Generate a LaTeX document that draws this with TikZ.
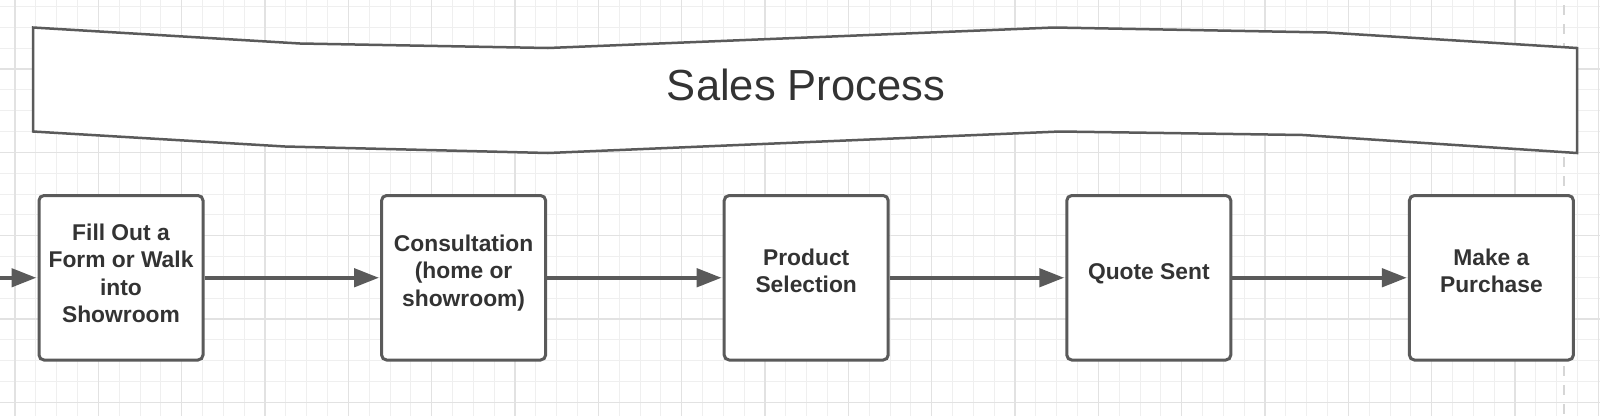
\documentclass[tikz,border=0pt]{standalone}
\usepackage{fontspec}
\setmainfont{Liberation Sans}
\usetikzlibrary{arrows.meta,calc}
\definecolor{minorgrid}{HTML}{EFEFEF}
\definecolor{majorgrid}{HTML}{E2E2E2}
\definecolor{strokegray}{HTML}{5A5A5A}
\definecolor{textgray}{HTML}{333333}
\definecolor{dashgray}{HTML}{D6D6D6}
\tikzset{
  minorline/.style={draw=minorgrid,line width=1pt},
  majorline/.style={draw=majorgrid,line width=1.2pt},
  stepbox/.style={draw=strokegray,line width=3pt,fill=white,rounded corners=5pt,
    minimum width=164pt,minimum height=164.5pt,inner sep=0pt},
  steptext/.style={text=textgray,align=center,font=\fontsize{22.8}{27.3}\selectfont\bfseries,inner sep=0pt},
  flow/.style={draw=strokegray,line width=4.5pt,-{Triangle[length=25pt,width=18pt]},shorten >=1pt},
  bannerline/.style={draw=strokegray,line width=2.5pt,fill=white,line join=miter},
}
\begin{document}
\begin{tikzpicture}[x=1pt,y=-1pt]
\useasboundingbox (0,0) rectangle (1600,416);
\fill[white] (0,0) rectangle (1600,416);
% grid
\foreach \k in {0,...,76} \draw[minorline] (15+\k*20.8333,0) -- (15+\k*20.8333,416);
\foreach \k in {0,...,19} \draw[minorline] (0,6.5+\k*20.8333) -- (1600,6.5+\k*20.8333);
\foreach \k in {0,...,19} \draw[majorline] (15+\k*83.3333,0) -- (15+\k*83.3333,416);
\foreach \k in {0,...,4} \draw[majorline] (0,69+\k*83.3333) -- (1600,69+\k*83.3333);
% dashed page line
\draw[draw=dashgray,line width=2pt,dash pattern=on 10pt off 9pt] (1564,5) -- (1564,416);
% banner
\draw[bannerline] (33,27.5) -- (300,43.5) -- (548,48) -- (1054,27.5) -- (1327,32.5) -- (1577,48)
  -- (1577,153) -- (1303,135) -- (1060,131.5) -- (548,153) -- (285,146.5) -- (33,131.5) -- cycle;
\node[text=textgray,font=\fontsize{43.5}{50}\selectfont,inner sep=0pt,anchor=base] (title) at (806,100.7) {Sales Process};
% boxes
\node[stepbox] (b1) at (121,277.75) {};
\node[stepbox] (b2) at (463.6,277.75) {};
\node[stepbox] (b3) at (806.2,277.75) {};
\node[stepbox] (b4) at (1148.8,277.75) {};
\node[stepbox] (b5) at (1491.4,277.75) {};
\node[steptext] (t1) at ([yshift=1.75pt]b1.center) {\strut Fill Out a\\\strut Form or Walk\\\strut into\\\strut Showroom};
\node[steptext] (t2) at ([yshift=4.5pt]b2.center) {\strut Consultation\\\strut (home or\\\strut showroom)};
\node[steptext] (t3) at ([yshift=4.5pt]b3.center) {\strut Product\\\strut Selection};
\node[steptext] (t4) at ([yshift=3.5pt]b4.center) {\strut Quote Sent};
\node[steptext] (t5) at ([yshift=4pt]b5.center) {\strut Make a\\\strut Purchase};
% connectors
\coordinate (start) at (0,277.75);
\draw[flow] (start) -- (b1.west);
\draw[flow] (b1.east) -- (b2.west);
\draw[flow] (b2.east) -- (b3.west);
\draw[flow] (b3.east) -- (b4.west);
\draw[flow] (b4.east) -- (b5.west);
\end{tikzpicture}
\end{document}
